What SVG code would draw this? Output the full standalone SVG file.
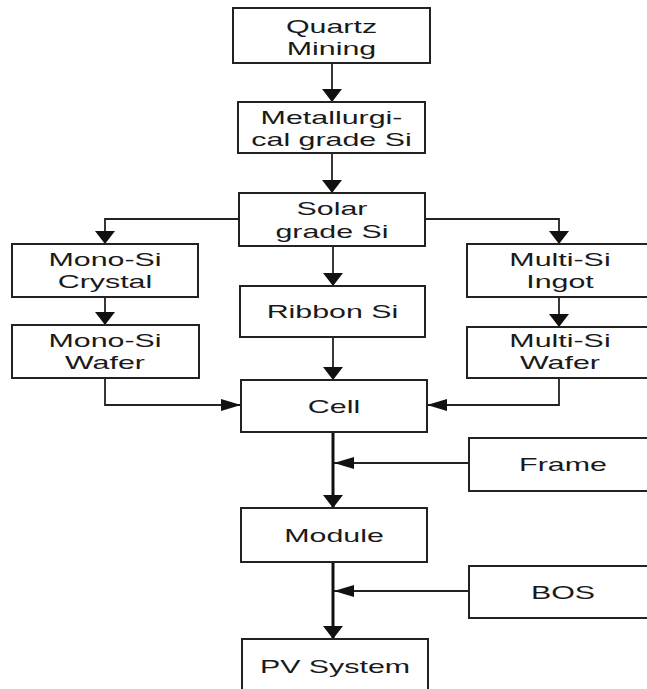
<svg xmlns="http://www.w3.org/2000/svg" width="647" height="689" viewBox="0 0 647 689">
<style>
.box{fill:#fff;stroke:#222;stroke-width:2}
.t{font-family:"Liberation Sans",Arial,sans-serif;font-size:19px;fill:#1a1a1a;text-anchor:middle}
.c{fill:none;stroke:#222;stroke-width:1.8}
.ct{fill:none;stroke:#111;stroke-width:3}
</style>
<defs>
<marker id="arrV" markerUnits="userSpaceOnUse" markerWidth="14" markerHeight="20" refX="13" refY="10" orient="auto"><path d="M0,0 L13,10 L0,20 z" fill="#111"/></marker>
<marker id="arrH" markerUnits="userSpaceOnUse" markerWidth="20" markerHeight="12" refX="20" refY="6" orient="auto"><path d="M0,0 L20,6 L0,12 z" fill="#111"/></marker>
</defs>
<rect width="647" height="689" fill="#fff"/>
<g id="connectors">
<line class="c" x1="332" y1="63" x2="332" y2="102" marker-end="url(#arrV)"/>
<line class="c" x1="332" y1="153" x2="332" y2="193" marker-end="url(#arrV)"/>
<polyline class="c" points="239,219 105,219 105,244" marker-end="url(#arrV)"/>
<polyline class="c" points="425,219 559,219 559,244" marker-end="url(#arrV)"/>
<line class="c" x1="333" y1="246" x2="333" y2="286" marker-end="url(#arrV)"/>
<line class="c" x1="333" y1="337" x2="333" y2="380" marker-end="url(#arrV)"/>
<line class="c" x1="105" y1="297" x2="105" y2="325" marker-end="url(#arrV)"/>
<line class="c" x1="559" y1="297" x2="559" y2="327" marker-end="url(#arrV)"/>
<polyline class="c" points="105,378 105,405 241,405" marker-end="url(#arrH)"/>
<polyline class="c" points="559,378 559,405 427,405" marker-end="url(#arrH)"/>
<line class="ct" x1="333" y1="432" x2="333" y2="508" marker-end="url(#arrV)"/>
<line class="c" x1="469" y1="463" x2="334" y2="463" marker-end="url(#arrH)"/>
<line class="ct" x1="333" y1="562" x2="333" y2="639" marker-end="url(#arrV)"/>
<line class="c" x1="469" y1="591" x2="334" y2="591" marker-end="url(#arrH)"/>
</g>
<g id="quartz"><rect class="box" x="233" y="8" width="197" height="55"/><text class="t" transform="matrix(1.6 0 0 1 331.5 33)">Quartz</text><text class="t" transform="matrix(1.6 0 0 1 331.5 55)">Mining</text></g>
<g id="metallurgical"><rect class="box" x="238" y="102" width="187" height="51"/><text class="t" transform="matrix(1.6 0 0 1 331.5 124)">Metallurgi-</text><text class="t" transform="matrix(1.6 0 0 1 331.5 146)">cal grade Si</text></g>
<g id="solar"><rect class="box" x="239" y="193" width="186" height="53"/><text class="t" transform="matrix(1.6 0 0 1 332 215)">Solar</text><text class="t" transform="matrix(1.6 0 0 1 332 238)">grade Si</text></g>
<g id="monocrystal"><rect class="box" x="12" y="244" width="186" height="53"/><text class="t" transform="matrix(1.6 0 0 1 105 266)">Mono-Si</text><text class="t" transform="matrix(1.6 0 0 1 105 288)">Crystal</text></g>
<g id="monowafer"><rect class="box" x="12" y="325" width="187" height="53"/><text class="t" transform="matrix(1.6 0 0 1 105 347)">Mono-Si</text><text class="t" transform="matrix(1.6 0 0 1 105 369)">Wafer</text></g>
<g id="ribbon"><rect class="box" x="240" y="286" width="185" height="51"/><text class="t" transform="matrix(1.6 0 0 1 332.5 318)">Ribbon Si</text></g>
<g id="multiingot"><rect class="box" x="467" y="244" width="192" height="53"/><text class="t" transform="matrix(1.6 0 0 1 560 266)">Multi-Si</text><text class="t" transform="matrix(1.6 0 0 1 560 288)">Ingot</text></g>
<g id="multiwafer"><rect class="box" x="467" y="327" width="192" height="51"/><text class="t" transform="matrix(1.6 0 0 1 560 347)">Multi-Si</text><text class="t" transform="matrix(1.6 0 0 1 560 369)">Wafer</text></g>
<g id="cell"><rect class="box" x="241" y="380" width="186" height="52"/><text class="t" transform="matrix(1.6 0 0 1 334 413)">Cell</text></g>
<g id="frame"><rect class="box" x="469" y="438" width="192" height="53"/><text class="t" transform="matrix(1.6 0 0 1 563 471)">Frame</text></g>
<g id="module"><rect class="box" x="241" y="508" width="186" height="54"/><text class="t" transform="matrix(1.6 0 0 1 334 542)">Module</text></g>
<g id="bos"><rect class="box" x="469" y="566" width="192" height="52"/><text class="t" transform="matrix(1.6 0 0 1 563 599)">BOS</text></g>
<g id="pvsystem"><rect class="box" x="242" y="639" width="186" height="60"/><text class="t" transform="matrix(1.6 0 0 1 335 673)">PV System</text></g>
</svg>
